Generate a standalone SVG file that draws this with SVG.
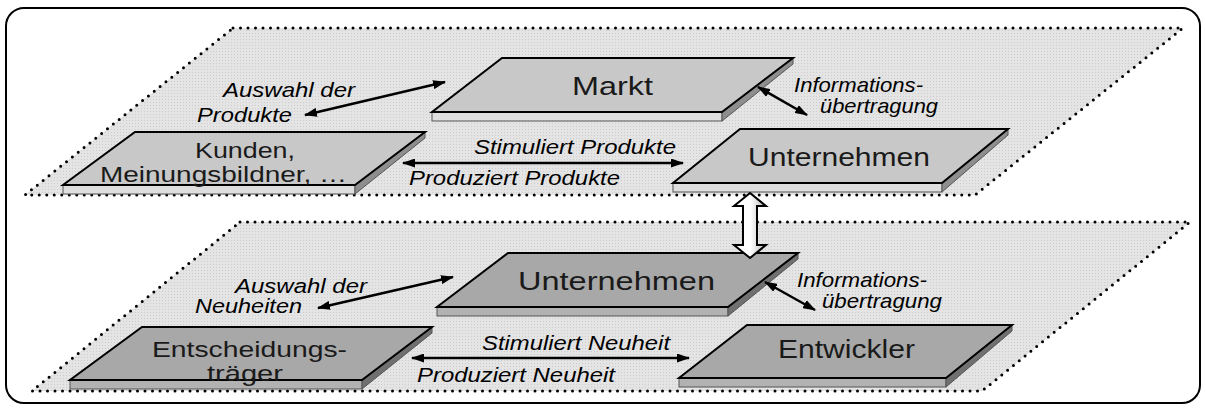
<svg xmlns="http://www.w3.org/2000/svg" width="1206" height="408" viewBox="0 0 1206 408">
  <defs>
    <pattern id="dither" width="3" height="3" patternUnits="userSpaceOnUse">
      <rect width="3" height="3" fill="#e4e4e4"/>
      <rect width="1" height="1" fill="#cdcdcd"/>
    </pattern>
    <marker id="head" viewBox="0 0 13 9" refX="12" refY="4.5" markerWidth="13" markerHeight="9" markerUnits="userSpaceOnUse" orient="auto-start-reverse">
      <path d="M0,0 L13,4.5 L0,9 Z" fill="#000"/>
    </marker>
    <linearGradient id="hollow" x1="0" y1="0" x2="1" y2="0">
      <stop offset="0" stop-color="#ffffff"/>
      <stop offset="0.5" stop-color="#ffffff"/>
      <stop offset="1" stop-color="#b8b8b8"/>
    </linearGradient>
    <style>
      .frame { fill: #fff; stroke: #000; stroke-width: 2; }
      .plane { fill: url(#dither); stroke: #000; stroke-width: 3; stroke-dasharray: 0 7.5; stroke-linecap: round; stroke-linejoin: round; }
      .upper .face { fill: #c8c8c8; }
      .upper .front { fill: #dedede; }
      .upper .side { fill: #8e8e8e; }
      .lower .face { fill: #a8a8a8; }
      .lower .front { fill: #b2b2b2; }
      .lower .side { fill: #707070; }
      .face { stroke: #000; stroke-width: 2; stroke-linejoin: miter; }
      .front, .side { stroke: #555; stroke-width: 1; }
      .lbl { font-family: "Liberation Sans", Arial, sans-serif; font-size: 26px; fill: #1a1a1a; }
      .lbl2 { font-family: "Liberation Sans", Arial, sans-serif; font-size: 22px; fill: #1a1a1a; }
      .it { font-family: "Liberation Sans", Arial, sans-serif; font-size: 21px; font-style: italic; fill: #000; }
      .it2 { font-family: "Liberation Sans", Arial, sans-serif; font-size: 20px; font-style: italic; fill: #000; }
      .link { stroke: #000; stroke-width: 2.5; fill: none; marker-start: url(#head); marker-end: url(#head); }
      .block { fill: url(#hollow); stroke: #000; stroke-width: 2; stroke-linejoin: miter; }
    </style>
  </defs>

  <!-- outer frame -->
  <rect class="frame" x="6" y="8" width="1194" height="395" rx="18" ry="18"/>

  <!-- market level plane -->
  <g id="plane-market">
    <polygon class="plane" points="233,28 1183,28 975,195 25,195"/>
  </g>

  <!-- company level plane -->
  <g id="plane-company">
    <polygon class="plane" points="240,222 1190,222 982,391 32,391"/>
  </g>

  <!-- market level slabs -->
  <g id="markt" class="upper">
    <rect class="front" x="432" y="112" width="290" height="9"/>
    <polygon class="side" points="722,112 793,58 793,64 722,121"/>
    <polygon class="face" points="502,58 793,58 722,112 432,112"/>
    <text class="lbl" x="572" y="95" textLength="81" lengthAdjust="spacingAndGlyphs">Markt</text>
  </g>

  <g id="kunden" class="upper">
    <rect class="front" x="63" y="185" width="292" height="9"/>
    <polygon class="side" points="355,185 425,132 425,138 355,194"/>
    <polygon class="face" points="135,132 425,132 355,185 63,185"/>
    <text class="lbl2" x="195" y="158" textLength="100" lengthAdjust="spacingAndGlyphs">Kunden,</text>
    <text class="lbl2" x="100" y="182" textLength="247" lengthAdjust="spacingAndGlyphs">Meinungsbildner, …</text>
  </g>

  <g id="unternehmen-markt" class="upper">
    <rect class="front" x="673" y="183" width="269" height="9"/>
    <polygon class="side" points="942,183 1008,129 1008,135 942,192"/>
    <polygon class="face" points="740,129 1008,129 942,183 673,183"/>
    <text class="lbl" x="748" y="166" textLength="182" lengthAdjust="spacingAndGlyphs">Unternehmen</text>
  </g>

  <!-- company level slabs -->
  <g id="unternehmen" class="lower">
    <rect class="front" x="437" y="307" width="291" height="9"/>
    <polygon class="side" points="728,307 798,253 798,259 728,316"/>
    <polygon class="face" points="508,253 798,253 728,307 437,307"/>
    <text class="lbl" x="518" y="290" textLength="197" lengthAdjust="spacingAndGlyphs">Unternehmen</text>
  </g>

  <g id="entscheidungstraeger" class="lower">
    <rect class="front" x="70" y="380" width="292" height="9"/>
    <polygon class="side" points="362,380 432,327 432,333 362,389"/>
    <polygon class="face" points="142,327 432,327 362,380 70,380"/>
    <text class="lbl2" x="152" y="357" textLength="195" lengthAdjust="spacingAndGlyphs">Entscheidungs-</text>
    <text class="lbl2" x="207" y="381" textLength="76" lengthAdjust="spacingAndGlyphs">träger</text>
  </g>

  <g id="entwickler" class="lower">
    <rect class="front" x="679" y="378" width="267" height="9"/>
    <polygon class="side" points="946,378 1012,325 1012,331 946,387"/>
    <polygon class="face" points="747,325 1012,325 946,378 679,378"/>
    <text class="lbl" x="778" y="358" textLength="137" lengthAdjust="spacingAndGlyphs">Entwickler</text>
  </g>

  <!-- connectors -->
  <g id="connectors">
    <line class="link" x1="445" y1="82" x2="305" y2="115"/>
    <line class="link" x1="758" y1="87" x2="807" y2="115"/>
    <line class="link" x1="403" y1="163" x2="683" y2="163"/>
    <line class="link" x1="453" y1="277" x2="318" y2="308"/>
    <line class="link" x1="765" y1="282" x2="815" y2="310"/>
    <line class="link" x1="412" y1="358" x2="689" y2="358"/>
    <polygon class="block" points="750,193 766,206 757,206 757,245 766,245 750,258 734,245 743,245 743,206 734,206"/>
  </g>

  <!-- connector labels -->
  <g id="labels">
    <text class="it" x="223" y="97" textLength="132" lengthAdjust="spacingAndGlyphs">Auswahl der</text>
    <text class="it" x="197" y="122" textLength="95" lengthAdjust="spacingAndGlyphs">Produkte</text>
    <text class="it" x="794" y="92" textLength="129" lengthAdjust="spacingAndGlyphs">Informations-</text>
    <text class="it" x="820" y="113" textLength="118" lengthAdjust="spacingAndGlyphs">übertragung</text>
    <text class="it" x="474" y="154" textLength="202" lengthAdjust="spacingAndGlyphs">Stimuliert Produkte</text>
    <text class="it" x="409" y="185" textLength="211" lengthAdjust="spacingAndGlyphs">Produziert Produkte</text>
    <text class="it2" x="235" y="293" textLength="132" lengthAdjust="spacingAndGlyphs">Auswahl der</text>
    <text class="it2" x="195" y="313" textLength="107" lengthAdjust="spacingAndGlyphs">Neuheiten</text>
    <text class="it" x="797" y="287" textLength="130" lengthAdjust="spacingAndGlyphs">Informations-</text>
    <text class="it" x="822" y="308" textLength="120" lengthAdjust="spacingAndGlyphs">übertragung</text>
    <text class="it" x="482" y="350" textLength="188" lengthAdjust="spacingAndGlyphs">Stimuliert Neuheit</text>
    <text class="it" x="417" y="382" textLength="198" lengthAdjust="spacingAndGlyphs">Produziert Neuheit</text>
  </g>
</svg>
